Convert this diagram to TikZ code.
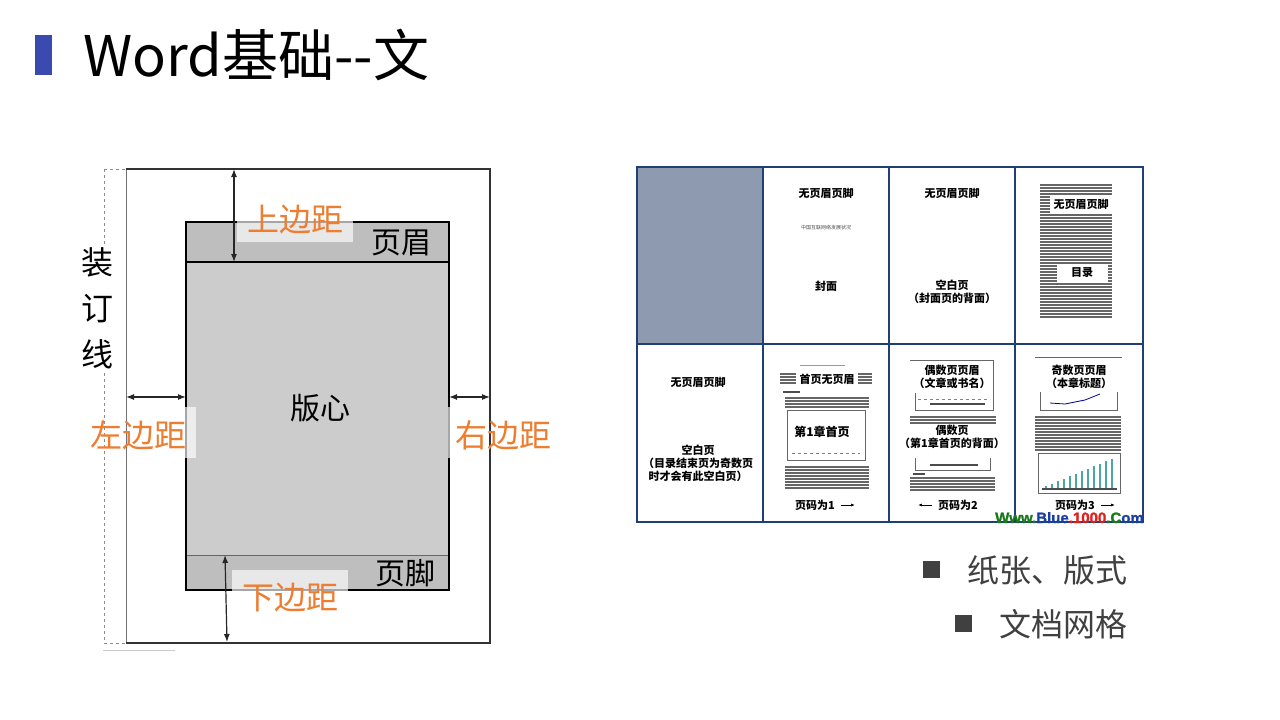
\documentclass[tikz,border=0pt]{standalone}
\usepackage{fontspec}
\setmainfont{Noto Sans CJK SC}
\newfontfamily\webfont[FakeBold=1.5]{Liberation Sans}
\usetikzlibrary{arrows.meta}
\definecolor{titlebar}{HTML}{3A4AAE}
\definecolor{marginorange}{HTML}{ED7D31}
\definecolor{blockgray}{HTML}{CCCCCC}
\definecolor{bandgray}{HTML}{BEBEBE}
\definecolor{slate}{HTML}{8E9AAF}
\definecolor{gridblue}{HTML}{1F3F77}
\definecolor{bullettext}{HTML}{404040}
\definecolor{webgreen}{HTML}{1C7A1C}
\definecolor{webblue}{HTML}{1A3FA0}
\definecolor{webred}{HTML}{E0201E}
\newcommand\txtlines[4]{\foreach \rr in {0,...,#4}{\draw[txtline] (#1,{#3+3*\rr}) -- (#2,{#3+3*\rr});}}

\begin{document}
\begin{tikzpicture}[x=1pt,y=-1pt,
  gap/.style={font=\fontsize{32}{38}\selectfont, text=marginorange, inner sep=0pt},
  gapbox/.style={fill=white, fill opacity=0.65},
  dim/.style={{Latex[length=8pt,width=6pt]}-{Latex[length=8pt,width=6pt]}, line width=1.2pt, black!85},
  cell/.style={font=\fontsize{11}{13}\selectfont\bfseries, inner sep=0pt, align=center},
  txtline/.style={line width=1.7pt, black!60},
  bulletsq/.style={fill=bullettext, minimum size=17pt, inner sep=0pt},
  bullettxt/.style={font=\fontsize{32}{38}\selectfont, text=bullettext, anchor=west, inner sep=0pt}]
\useasboundingbox (0,0) rectangle (1280,720);

% title
\fill[titlebar] (35,35) rectangle (52,75);
\node[anchor=base west, inner sep=0pt, font=\fontsize{56}{66}\selectfont] (title) at (83,76) {Word基础{-}{-}文};

% page with margins
\draw[black!45, dashed] (104,169) -- (104,643);
\draw[black!45, dashed] (104,169) -- (126,169);
\draw[black!45, dashed] (104,643) -- (126,643);
\draw[black!55] (126,169) -- (126,643);
\draw[black!80, line width=1.5pt] (126,169) -- (490,169) -- (490,643) -- (126,643);
\draw[black!20] (103,650) -- (175,650);
\node[fill=white, inner sep=2pt, align=center, font=\fontsize{32}{46}\selectfont] (bind) at (97,308) {装\\订\\线};

\fill[blockgray] (186,222) rectangle (449,590);
\fill[bandgray] (186,222) rectangle (449,262);
\fill[bandgray] (186,555) rectangle (449,590);
\draw[black!60] (186,555) -- (449,555);
\draw[line width=1.8pt] (186,262) -- (449,262);
\draw[line width=2pt] (186,222) rectangle (449,590);
\node[font=\fontsize{30}{36}\selectfont, inner sep=0pt] (hdr) at (401,243) {页眉};
\node[font=\fontsize{30}{36}\selectfont, inner sep=0pt] (ftr) at (405,573) {页脚};
\node[font=\fontsize{30}{36}\selectfont, inner sep=0pt] (core) at (320,408) {版心};

% margin arrows
\coordinate (topA) at (234,169); \coordinate (topB) at (234,262);
\coordinate (botA) at (225,555); \coordinate (botB) at (227,642);
\coordinate (lftA) at (126,397); \coordinate (lftB) at (186,397);
\coordinate (rgtA) at (449,397); \coordinate (rgtB) at (490,397);
\draw[dim] (topA) -- (topB);
\draw[dim] (botA) -- (botB);
\draw[dim] (lftA) -- (lftB);
\draw[dim] (rgtA) -- (rgtB);

\fill[gapbox] (237,200) rectangle (353,242);
\fill[gapbox] (232,570) rectangle (348,618);
\fill[gapbox] (127,407) rectangle (196,458);
\fill[gapbox] (448,407) rectangle (460,458);
\node[gap] (topgap) at (295,220) {上边距};
\node[gap] (botgap) at (290,598) {下边距};
\node[gap] (lftgap) at (138,435) {左边距};
\node[gap] (rgtgap) at (503,435) {右边距};

% page layout sample grid
\fill[slate] (637,167) rectangle (763,344);
% row 1
\node[cell] (c2title) at (826,193) {无页眉页脚};
\node[cell, font=\fontsize{5}{6}\selectfont, text=black!70] (c2small) at (826,228) {中国互联网络发展状况};
\node[cell] (c2cover) at (826,286) {封面};
\node[cell] (c3title) at (952,193) {无页眉页脚};
\node[cell, font=\fontsize{11}{13.5}\selectfont\bfseries] (c3blank) at (952,292) {空白页\\（封面页的背面）};
\txtlines{1040}{1112}{185}{44}
\fill[white] (1050,195) rectangle (1113,213);
\fill[white] (1057,265) rectangle (1108,282);
\node[cell] (c4title) at (1081,204) {无页眉页脚};
\node[cell] (c4toc) at (1082,273) {目录};
% row 2
\node[cell] (d1title) at (698,382) {无页眉页脚};
\node[cell, font=\fontsize{11}{13}\selectfont\bfseries] (d1blank) at (698,463) {空白页\\（目录结束页为奇数页\\时才会有此空白页）};

\draw[black!40, line width=0.8pt] (800,365) -- (845,365);
\txtlines{780}{796}{374}{3}
\txtlines{858}{872}{374}{3}
\node[cell] (d2head) at (827,379) {首页无页眉};
\draw[line width=2pt, black!70] (783,392) -- (800,392);
\txtlines{785}{869}{398}{3}
\draw[black!60, line width=1pt] (787,410) rectangle (865,460);
\draw[black!50, dashed] (792,453) -- (860,453);
\node[cell, font=\fontsize{12}{14}\selectfont\bfseries] (d2first) at (822,432) {第1章首页};
\txtlines{785}{869}{467}{7}
\node[cell] (d2num) at (815,505) {页码为1};
\draw[-{Latex[length=4pt]}, line width=1pt] (d2num.east) ++(6,0) -- ++(14,0);

\draw[black!60, line width=1pt] (910,360) -- (993,360) -- (993,410) -- (915,410) -- (915,393);
\node[cell, font=\fontsize{11}{13.5}\selectfont\bfseries] (d3head) at (952,377) {偶数页页眉\\（文章或书名）};
\draw[black!50, dashed] (918,399) -- (990,399);
\draw[line width=2pt, black!70] (930,404) -- (985,404);
\txtlines{910}{996}{417}{2}
\node[cell, font=\fontsize{11}{13}\selectfont\bfseries] (d3back) at (952,437) {偶数页\\（第1章首页的背面）};
\draw[black!60] (915,458) -- (915,470) -- (990,470) -- (990,458);
\draw[line width=2.5pt, black!70] (930,465) -- (978,465);
\draw[line width=2pt, black!70] (913,474) -- (925,474);
\txtlines{910}{995}{478}{4}
\node[cell] (d3num) at (958,505) {页码为2};
\draw[-{Latex[length=4pt]}, line width=1pt] (d3num.west) ++(-6,0) -- ++(-14,0);

\draw[black!60, line width=1pt] (1035,357) -- (1122,357);
\node[cell, font=\fontsize{11}{13.5}\selectfont\bfseries] (d4head) at (1079,377) {奇数页页眉\\（本章标题）};
\draw[black!60] (1040,392) -- (1040,410) -- (1117,410) -- (1117,392);
\draw[blue!60!black, line width=0.8pt] (1050,403) -- (1065,404) -- (1085,400) -- (1100,394);
\txtlines{1035}{1121}{417}{11}
\draw[black!60] (1038,453) rectangle (1120,493);
\foreach \bb in {0,...,11}{\fill[teal!70] ({1045+6*\bb},489) rectangle ++(2,{-3-2.5*\bb});}
\draw[black!70, line width=1.5pt] (1042,489) -- (1117,489);
\node[cell] (d4num) at (1075,505) {页码为3};
\draw[-{Latex[length=4pt]}, line width=1pt] (d4num.east) ++(6,0) -- ++(14,0);

\draw[gridblue, line width=1.6pt] (637,167) rectangle (1143,522);
\draw[gridblue, line width=1.6pt] (637,344) -- (1143,344);
\foreach \gx in {763,889,1015}{\draw[gridblue, line width=1.6pt] (\gx,167) -- (\gx,522);}

\node[anchor=base east, inner sep=0pt, font=\webfont\bfseries\fontsize{15}{18}\selectfont] (web) at (1144,523)
 {\textcolor{webgreen}{Www.}\textcolor{webblue}{Blue}\textcolor{webred}{.1000}\textcolor{webgreen}{.C}\textcolor{webblue}{om}};

% bullets
\node[bulletsq] (b1) at (931,569) {};
\node[bullettxt] (t1) at (967,570) {纸张、版式};
\node[bulletsq] (b2) at (963,623) {};
\node[bullettxt] (t2) at (999,624) {文档网格};
\end{tikzpicture}
\end{document}
